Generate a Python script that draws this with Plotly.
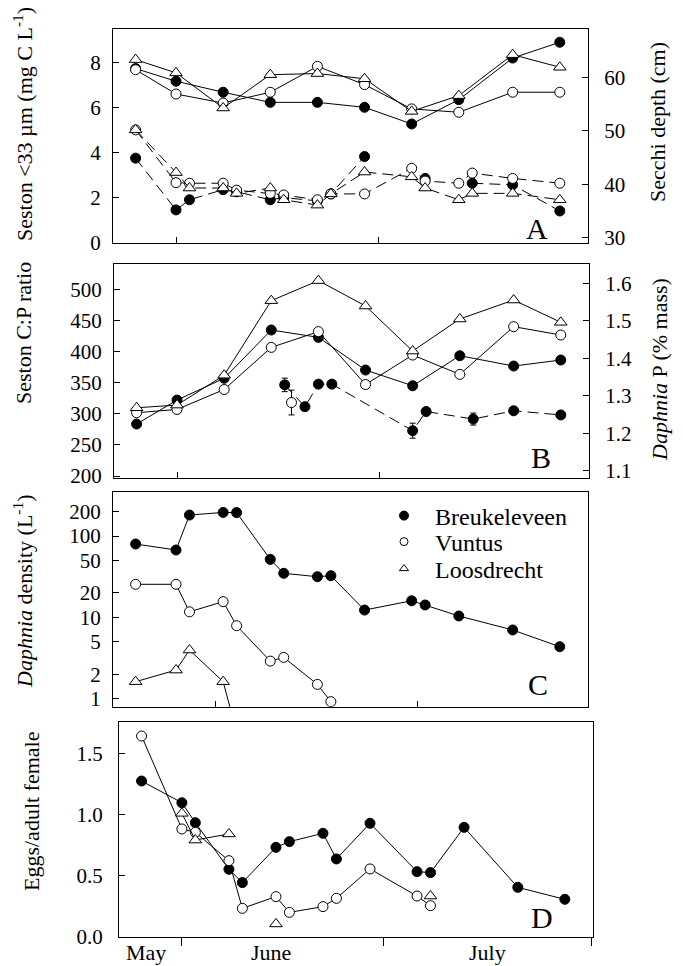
import plotly.graph_objects as go

# ---------------- data (x = day of year; 152 = 1 June, 182 = 1 July) -------------
days_a = [146, 152, 159, 166, 173, 180, 187, 194, 202, 209]
seston_breuk = [7.75, 7.19, 6.70, 6.25, 6.25, 6.03, 5.29, 6.37, 8.22, 8.92]
seston_vuntus = [7.70, 6.62, 6.22, 6.70, 7.85, 7.04, 5.96, 5.81, 6.70, 6.70]
seston_loos = [8.15, 7.56, 6.00, 7.48, 7.53, 7.30, 5.85, 6.55, 8.37, 7.81]

days_secchi = [146, 152, 154, 159, 161, 166, 168, 173, 175, 180, 187, 189, 194, 196, 202, 209]
secchi_breuk = [44.9, 35.2, 37.1, 39.0, 38.6, 37.1, 37.5, 36.9, 38.2, 45.2, None, 41.1, None, 40.2, 39.9, 35.0]
secchi_vuntus = [50.2, 40.3, 40.2, 40.2, 38.9, 38.3, 38.0, 37.1, 38.2, 38.2, 43.0, 40.6, 40.2, 42.1, 41.1, 40.2]
secchi_loos = [50.2, 42.2, 39.3, 39.3, 38.3, 39.3, 37.1, 36.1, 38.2, 42.3, 41.4, 39.3, 37.1, 38.3, 38.3, 37.1]

cp_breuk = [283.5, 322, 357, 434.6, 422.8, 370.3, 345, 393.3, 376.7, 386.4]
cp_vuntus = [301.7, 307, 339, 406.7, 432, 347, 394.4, 363.3, 440, 426.6]
cp_loos = [309.7, 314, 362, 481.8, 514, 473.2, 400.8, 452.3, 482.8, 447]

days_dp_breuk = [168, 171, 173, 175, 187, 189, 196, 202, 209]
dp_breuk = [1.329, 1.271, 1.331, 1.331, 1.207, 1.258, 1.238, 1.260, 1.249]
dp_breuk_err = [0.018, 0.006, 0.006, 0.006, 0.02, 0.006, 0.016, 0.006, 0.006]
days_dp_vuntus = [169]
dp_vuntus = [1.282]
dp_vuntus_err = [0.033]

days_cd = [146, 152, 154, 159, 161, 166, 168, 173, 175, 180, 187, 189, 194, 202, 209]
dens_breuk = [79.7, 67.3, 181, 195, 194, 51.6, 34.8, 31.6, 32.5, 12.3, 16.0, 14.2, 10.4, 7.0, 4.36]
dens_vuntus = [25.5, 25.5, 11.7, 15.6, 7.9, 2.9, 3.22, 1.50, 0.92, None, None, None, None, None, None]
dens_loos = [1.62, 2.25, 3.97, 1.62, 0.39, None, None, None, None, None, None, None, None, None, None]

eggs_breuk = [1.276, 1.098, 0.934, 0.552, 0.443, 0.732, 0.779, 0.847, 0.637, 0.929, 0.533, 0.525, 0.896, 0.404, 0.306]
eggs_vuntus = [1.645, 0.883, 0.855, 0.623, 0.232, 0.328, 0.199, 0.246, 0.314, 0.555, 0.333, 0.254, None, None, None]
eggs_loos = [None, 1.011, 0.792, 0.842, None, 0.104, None, None, None, None, None, 0.333, None, None, None]

lakes = ["Breukeleveen", "Vuntus", "Loosdrecht"]
month_labels = ["May", "June", "July"]
month_label_days = [146.6, 165.2, 197.5]

# ---------------- styling -------------------------------------------------------
W, H = 683, 966
FONT = "Liberation Serif, Times New Roman, serif"
XR = [142.64, 213.19]


def xd(l, r):
    return [l / W, r / W]


def yd(top, bottom):
    return [1 - bottom / H, 1 - top / H]


MK = {
    "Breukeleveen": dict(symbol="circle", size=10, color="black", line=dict(color="black", width=1)),
    "Vuntus": dict(symbol="circle", size=10, color="white", line=dict(color="black", width=1)),
    "Loosdrecht": dict(symbol="triangle-up", size=11, color="white", line=dict(color="black", width=1)),
}
DASH = "11px,6px"

fig = go.Figure()


def add(x, y, lake, xa, ya, dash="solid", err=None):
    kw = {}
    if err is not None:
        kw["error_y"] = dict(type="data", array=err, color="black", thickness=1, width=3)
    fig.add_trace(go.Scatter(
        x=x, y=y, mode="lines+markers", xaxis=xa, yaxis=ya,
        line=dict(color="black", width=1, dash=dash),
        marker=MK[lake], showlegend=False, hoverinfo="skip", **kw))


# Panel A
add(days_a, seston_breuk, "Breukeleveen", "x", "y")
add(days_a, seston_vuntus, "Vuntus", "x", "y")
add(days_a, seston_loos, "Loosdrecht", "x", "y")
add(days_secchi, secchi_breuk, "Breukeleveen", "x", "y2", DASH)
add(days_secchi, secchi_vuntus, "Vuntus", "x", "y2", DASH)
add(days_secchi, secchi_loos, "Loosdrecht", "x", "y2", DASH)

# Panel B
add(days_a, cp_breuk, "Breukeleveen", "x2", "y3")
add(days_a, cp_vuntus, "Vuntus", "x2", "y3")
add(days_a, cp_loos, "Loosdrecht", "x2", "y3")
add(days_dp_breuk, dp_breuk, "Breukeleveen", "x2", "y4", DASH, dp_breuk_err)
add(days_dp_vuntus, dp_vuntus, "Vuntus", "x2", "y4", DASH, dp_vuntus_err)

# Panel C
add(days_cd, dens_breuk, "Breukeleveen", "x3", "y5")
add(days_cd, dens_vuntus, "Vuntus", "x3", "y5")
add(days_cd, dens_loos, "Loosdrecht", "x3", "y5")

# Panel D
add(days_cd, eggs_breuk, "Breukeleveen", "x4", "y6")
add(days_cd, eggs_vuntus, "Vuntus", "x4", "y6")
add(days_cd, eggs_loos, "Loosdrecht", "x4", "y6")

# legend entries (markers only), one legend per row for exact spacing
leg_mk = {
    "Breukeleveen": dict(symbol="circle", size=9, color="black", line=dict(color="black", width=1)),
    "Vuntus": dict(symbol="circle", size=8, color="white", line=dict(color="black", width=1)),
    "Loosdrecht": dict(symbol="triangle-up", size=8, color="white", line=dict(color="black", width=1)),
}
legend_ids = ["legend", "legend2", "legend3"]
legend_rows = [516, 542, 569]
for lake, lid in zip(lakes, legend_ids):
    fig.add_trace(go.Scatter(x=[None], y=[None], mode="markers", name=lake,
                             marker=leg_mk[lake], xaxis="x3", yaxis="y5", legend=lid))

TICKF = dict(family=FONT, size=21, color="black")
xbase = dict(range=XR, showline=True, linecolor="black", linewidth=1, mirror=True,
             showgrid=False, zeroline=False, ticks="inside", ticklen=6, tickcolor="black",
             showticklabels=False, automargin=False)
ybase = dict(showline=True, linecolor="black", linewidth=1, showgrid=False, zeroline=False,
             ticks="inside", ticklen=6, tickcolor="black", tickfont=TICKF,
             automargin=False, ticklabelstandoff=7)

A_x, A_y = xd(113, 588), yd(29, 243)
B_x, B_y = xd(114, 589), yd(264, 478)
C_x, C_y = xd(113, 588), yd(492, 706.7)
D_x, D_y = xd(119, 593), yd(722, 937)

layout = dict(
    width=W, height=H, margin=dict(l=0, r=0, t=0, b=0),
    paper_bgcolor="white", plot_bgcolor="white",
    font=dict(family=FONT, color="black"),
    xaxis=dict(xbase, domain=A_x, anchor="y", tickvals=[152, 182]),
    yaxis=dict(ybase, domain=A_y, anchor="x", range=[0, 9.51], tickvals=[0, 2, 4, 6, 8]),
    yaxis2=dict(ybase, overlaying="y", side="right", anchor="x", range=[29.0, 69.1],
                tickvals=[30, 40, 50, 60], ticklabelstandoff=11),
    xaxis2=dict(xbase, domain=B_x, anchor="y3", tickvals=[152, 182]),
    yaxis3=dict(ybase, domain=B_y, anchor="x2", range=[196.8, 540.7],
                tickvals=[200, 250, 300, 350, 400, 450, 500]),
    yaxis4=dict(ybase, overlaying="y3", side="right", anchor="x2", range=[1.081, 1.651],
                tickvals=[1.1, 1.2, 1.3, 1.4, 1.5, 1.6], tickformat=".1f", ticklabelstandoff=11),
    xaxis3=dict(xbase, domain=C_x, anchor="y5", tickvals=[157.8, 187.8]),
    yaxis5=dict(ybase, domain=C_y, anchor="x3", type="log", range=[-0.098, 2.541], mirror=True,
                tickvals=[1, 2, 5, 10, 20, 50, 100, 200]),
    xaxis4=dict(xbase, domain=D_x, anchor="y6", tickvals=[152, 182, 213], ticks="outside",
                ticklen=8),
    yaxis6=dict(ybase, domain=D_y, anchor="x4", range=[-0.003, 1.76], mirror=True,
                tickvals=[0, 0.5, 1.0, 1.5], tickformat=".1f", ticklabelstandoff=11),
    showlegend=True,
)
for lid, row in zip(legend_ids, legend_rows):
    layout[lid] = dict(x=373 / W, y=1 - row / H, xanchor="left", yanchor="middle",
                       bgcolor="rgba(0,0,0,0)", font=dict(family=FONT, size=24, color="black"),
                       itemwidth=52, itemsizing="trace")
fig.update_layout(**layout)

# axis titles, month labels and panel letters
TF = dict(family=FONT, size=22, color="black")
titles = [
    ("Seston &lt;33 µm (mg C L<sup>-1</sup>)", 23, 124),
    ("Seston C:P ratio", 23, 333),
    ("<i>Daphnia</i> density (L<sup>-1</sup>)", 23, 592),
    ("Eggs/adult female", 31, 812),
    ("Secchi depth (cm)", 657, 122),
    ("<i>Daphnia</i> P (% mass)", 659, 370),
]
for text, x, y in titles:
    fig.add_annotation(text=text, x=x / W, y=1 - y / H, xref="paper", yref="paper",
                       textangle=-90, showarrow=False, font=TF,
                       xanchor="center", yanchor="middle")
for text, d in zip(month_labels, month_label_days):
    fig.add_annotation(text=text, x=d, y=1 - 939 / H, xref="x4", yref="paper",
                       showarrow=False, font=dict(family=FONT, size=22, color="black"),
                       xanchor="center", yanchor="top", borderpad=0)
for letter, x, y in [("A", 537, 228), ("B", 541, 457), ("C", 538, 684), ("D", 542, 917)]:
    fig.add_annotation(text=letter, x=x / W, y=1 - y / H, xref="paper", yref="paper",
                       showarrow=False, font=dict(family=FONT, size=30, color="black"),
                       xanchor="center", yanchor="middle")

fig.write_html("out.html", config={"displayModeBar": False},
               post_script="document.body.style.margin='0px';")
